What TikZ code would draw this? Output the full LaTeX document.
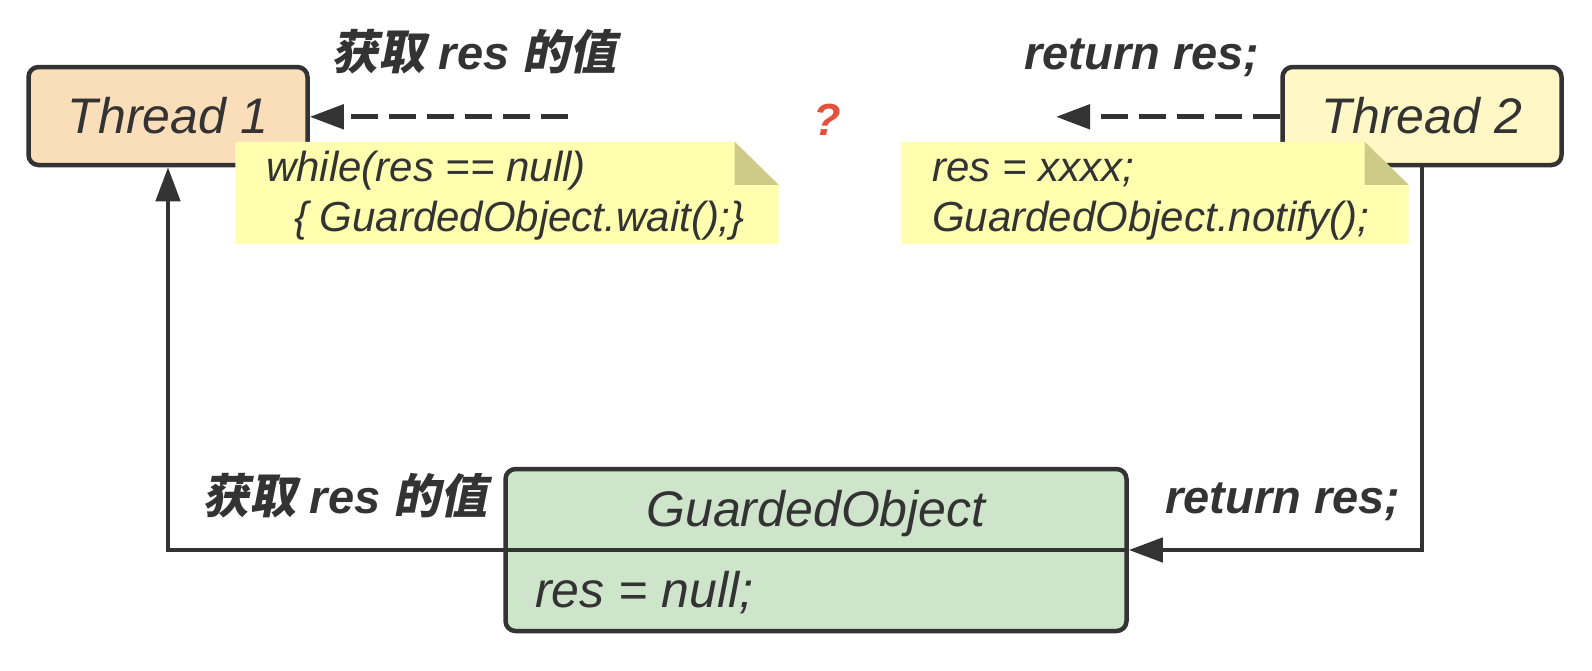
\documentclass[tikz,border=0pt]{standalone}
\usepackage{fontspec}
\setmainfont{Liberation Sans}
\newfontfamily\cjk[FakeSlant=0.2]{Noto Sans CJK SC}
\usetikzlibrary{arrows.meta}
\definecolor{edge}{HTML}{333333}
\definecolor{peach}{HTML}{F9DEB9}
\definecolor{lemon}{HTML}{FFF8C6}
\definecolor{notefill}{HTML}{FFFFB0}
\definecolor{foldfill}{HTML}{CCCC88}
\definecolor{gofill}{HTML}{CFE5CB}
\definecolor{qred}{HTML}{E5503C}
\tikzset{
  threadbox/.style={draw=edge, line width=4.5pt, rounded corners=10pt, minimum width=279pt, minimum height=98pt, inner sep=0pt, font=\fontsize{50}{60}\selectfont\itshape},
  gobox/.style={draw=edge, fill=gofill, line width=4.5pt, rounded corners=10pt, minimum width=621pt, minimum height=162pt, inner sep=0pt},
  notebox/.style={minimum width=543pt, minimum height=102pt, inner sep=0pt},
  notetext/.style={anchor=base west, inner sep=0pt, text=edge, font=\fontsize{42}{50}\selectfont\itshape},
  gotext/.style={anchor=base, inner sep=0pt, text=edge, font=\fontsize{50}{60}\selectfont\itshape},
  lbl/.style={anchor=base, inner sep=0pt, text=edge, font=\fontsize{47}{56}\selectfont\bfseries\itshape},
  conn/.style={draw=edge, line width=4.5pt, -{Triangle[length=34pt,width=24pt]}},
  dconn/.style={draw=edge, line width=5pt, dash pattern=on 27pt off 11pt, -{Triangle[length=34pt,width=24pt]}},
}
\begin{document}
\begin{tikzpicture}[x=1pt,y=-1pt]
\useasboundingbox (0,0) rectangle (1592,670);
% notes (behind)
\node[notebox] (n1) at (507,193) {};
\node[notebox, minimum width=507pt] (n2) at (1155,193) {};
% threads
\node[threadbox, fill=peach, text=edge] (t1) at (168,116) {Thread 1};
\node[threadbox, fill=lemon, text=edge] (t2) at (1422,116) {Thread 2};
% note shapes
\fill[notefill] (n1.north west) -- ([xshift=-44pt]n1.north east) -- ([yshift=-43pt]n1.north east) -- (n1.south east) -- (n1.south west) -- cycle;
\fill[foldfill] ([xshift=-44pt]n1.north east) -- ([xshift=-44pt,yshift=-43pt]n1.north east) -- ([yshift=-43pt]n1.north east) -- cycle;
\fill[notefill] (n2.north west) -- ([xshift=-44pt]n2.north east) -- ([yshift=-43pt]n2.north east) -- (n2.south east) -- (n2.south west) -- cycle;
\fill[foldfill] ([xshift=-44pt]n2.north east) -- ([xshift=-44pt,yshift=-43pt]n2.north east) -- ([yshift=-43pt]n2.north east) -- cycle;
\node[notetext] (n1a) at (266,181) {while(res == null)};
\node[notetext] (n1b) at (294,231.5) {\{ GuardedObject.wait();\}};
\node[notetext] (n2a) at (932,181) {res = xxxx;};
\node[notetext] (n2b) at (932,231.5) {GuardedObject.notify();};
% guarded object
\node[gobox] (go) at (816,550) {};
\draw[edge, line width=4.5pt] (go.west) -- (go.east);
\node[gotext] (gotitle) at (816,526) {GuardedObject};
\node[gotext, anchor=base west] (gores) at (535,607) {res = null;};
% labels
\node[lbl] (l1) at (474,69) {{\cjk\bfseries 获取} res {\cjk\bfseries 的值}};
\node[lbl] (l2) at (1142,69) {return res;};
\node[lbl] (l3) at (345,513) {{\cjk\bfseries 获取} res {\cjk\bfseries 的值}};
\node[lbl] (l4) at (1283,513) {return res;};
\node[lbl, text=qred, font=\fontsize{45}{54}\selectfont\bfseries\itshape] (q) at (827,135) {?};
% connectors
\coordinate (d1) at (568,116.8);
\coordinate (d2) at (1056,116.8);
\draw[dconn] (d1) -- (t1.east |- d1);
\draw[dconn] (t2.west |- d2) -- (d2);
\draw[conn] (go.west) -| (t1.south);
\draw[conn] (t2.south) |- (go.east);
\end{tikzpicture}
\end{document}
